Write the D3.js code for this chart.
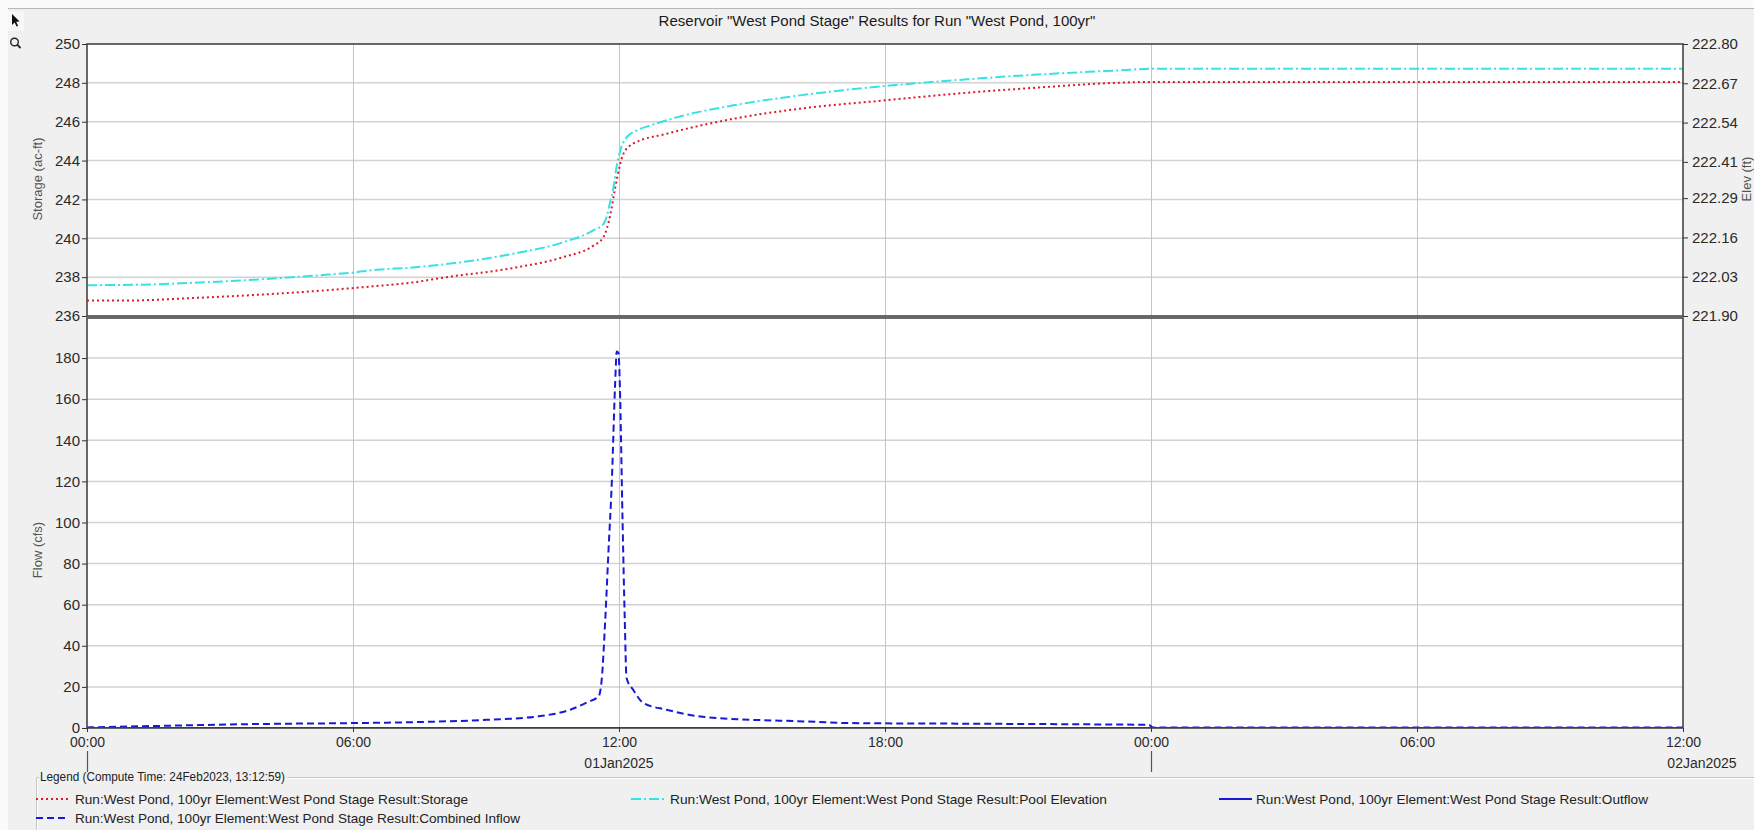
<!DOCTYPE html>
<html>
<head>
<meta charset="utf-8">
<script src="https://cdn.jsdelivr.net/npm/d3@7"></script>
<style>
  html, body { margin: 0; padding: 0; background: #f0f0f0; }
  svg { display: block; }
  text { font-family: "Liberation Sans", Arial, sans-serif; }
</style>
</head>
<body>
<svg id="chart" width="1754" height="830"></svg>
<script>
// ---------------- DATA ----------------
const chartTitle = 'Reservoir "West Pond Stage" Results for Run "West Pond, 100yr"';

const storageHours  = [0, 1, 2.25, 3.76, 5.26, 6.01, 6.61, 7.22, 8.11, 9.61, 10.74, 11.42, 11.65, 11.8, 11.91, 12.02, 12.1, 12.32, 13.08, 14.58, 16.08, 18, 19.84, 21.34, 23.3, 24, 30, 36];
const storageValues = [236.8, 236.8, 236.91, 237.08, 237.3, 237.44, 237.56, 237.69, 238.0, 238.47, 239.03, 239.62, 240.06, 241.17, 242.55, 243.75, 244.35, 244.87, 245.38, 246.15, 246.67, 247.1, 247.49, 247.74, 248.01, 248.05, 248.05, 248.05];

const poolHours  = [0, 1, 2.25, 3.76, 5.26, 6.01, 6.61, 7.22, 8.11, 9.61, 10.74, 11.42, 11.65, 11.72, 11.8, 11.87, 11.95, 12.02, 12.17, 12.4, 12.7, 13.45, 14.58, 16.08, 18, 19.84, 21.34, 23.3, 24, 30, 36];
const poolValues = [222.002, 222.003, 222.009, 222.020, 222.035, 222.044, 222.054, 222.059, 222.072, 222.106, 222.144, 222.183, 222.205, 222.227, 222.277, 222.321, 222.398, 222.443, 222.491, 222.514, 222.530, 222.563, 222.597, 222.630, 222.661, 222.683, 222.698, 222.713, 222.718, 222.718, 222.718];

const inflowHours  = [0, 1.13, 2.26, 3.76, 6.02, 7.52, 9.02, 10.15, 10.9, 11.28, 11.54, 11.61, 11.69, 11.76, 11.84, 11.91, 11.95, 11.99, 12.02, 12.08, 12.13, 12.17, 12.32, 12.55, 13.07, 13.83, 14.2, 16.2, 17.2, 19.8, 22.4, 23.7, 23.95, 24.05, 30, 36];
const inflowValues = [0.3, 0.8, 1.3, 1.9, 2.4, 2.9, 4.0, 5.6, 8.9, 12.5, 15.4, 23.5, 52.7, 85, 120.8, 166, 183.2, 182.4, 166, 101, 52.7, 24.3, 18.6, 12.2, 8.9, 5.6, 4.9, 3.2, 2.4, 2.1, 1.8, 1.6, 1.5, 0.2, 0.2, 0.2];

const outflowHours  = [0, 6, 12, 18, 24, 30, 36];
const outflowValues = [0, 0, 0, 0, 0, 0, 0];

const storageTicks = [236, 238, 240, 242, 244, 246, 248, 250];
const elevTicks    = [221.90, 222.03, 222.16, 222.29, 222.41, 222.54, 222.67, 222.80];
const flowTicks    = [0, 20, 40, 60, 80, 100, 120, 140, 160, 180];
const timeTickHours = [0, 6, 12, 18, 24, 30, 36];
const dateLabels   = [{hour: 12, text: "01Jan2025"}, {hour: 36, text: "02Jan2025"}];
const dayBoundaryHours = [0, 24];

const legendTitle = "Legend (Compute Time: 24Feb2023, 13:12:59)";
const legendItems = [
  {name: "Run:West Pond, 100yr Element:West Pond Stage Result:Storage", key: "storage"},
  {name: "Run:West Pond, 100yr Element:West Pond Stage Result:Pool Elevation", key: "pool"},
  {name: "Run:West Pond, 100yr Element:West Pond Stage Result:Outflow", key: "outflow"},
  {name: "Run:West Pond, 100yr Element:West Pond Stage Result:Combined Inflow", key: "inflow"}
];

// ---------------- STYLES ----------------
const styles = {
  storage: {color: "#e0182c", dash: "2,3", width: 2},
  pool:    {color: "#35e3e3", dash: "10,3,2,3", width: 2},
  outflow: {color: "#1818d8", dash: null, width: 2},
  inflow:  {color: "#1818d8", dash: "7,4", width: 2}
};

// ---------------- LAYOUT ----------------
const L = 87, R = 1683;
const topY0 = 44, topY1 = 316;
const botY0 = 318, botY1 = 728;
const t0 = Date.UTC(2025, 0, 1, 0, 0);
const hourToDate = h => new Date(t0 + h * 3600 * 1000);

const svg = d3.select("#chart");

// Background pieces
svg.append("rect").attr("x", 0).attr("y", 0).attr("width", 1754).attr("height", 830).attr("fill", "#f0f0f0");
svg.append("rect").attr("x", 0).attr("y", 0).attr("width", 1754).attr("height", 8).attr("fill", "#fbfbfb");
svg.append("rect").attr("x", 0).attr("y", 0).attr("width", 8).attr("height", 830).attr("fill", "#fbfbfb");
svg.append("line").attr("x1", 8).attr("x2", 1754).attr("y1", 8.5).attr("y2", 8.5).attr("stroke", "#b8b8b8").attr("stroke-width", 1);

// toolbar icons
svg.append("rect").attr("x", 8).attr("y", 11).attr("width", 16).attr("height", 20).attr("fill", "#f7f7f7");
svg.append("path")
  .attr("d", "M12,14 L12,25 L14.6,22.4 L16.6,26.6 L18.2,25.9 L16.2,21.7 L19.6,21.5 Z")
  .attr("fill", "#111");
svg.append("circle").attr("cx", 14.5).attr("cy", 42).attr("r", 3.8).attr("fill", "none").attr("stroke", "#222").attr("stroke-width", 1.4);
svg.append("line").attr("x1", 17.2).attr("y1", 44.7).attr("x2", 20.5).attr("y2", 48).attr("stroke", "#222").attr("stroke-width", 1.8);

// Scales
const x = d3.scaleUtc().domain([hourToDate(0), hourToDate(36)]).range([L, R]);
const yStor = d3.scaleLinear().domain([236, 250]).range([topY1, topY0]);
const yElev = d3.scaleLinear().domain([221.9, 222.8]).range([topY1, topY0]);
const yFlow = d3.scaleLinear().domain([0, 199.5]).range([botY1, botY0]);

// Plot backgrounds
svg.append("rect").attr("x", L).attr("y", topY0).attr("width", R - L).attr("height", topY1 - topY0).attr("fill", "#fff");
svg.append("rect").attr("x", L).attr("y", botY0).attr("width", R - L).attr("height", botY1 - botY0).attr("fill", "#fff");

// Grid
const grid = svg.append("g");
storageTicks.slice(1, -1).forEach(v => {
  grid.append("line").attr("x1", L).attr("x2", R).attr("y1", yStor(v)).attr("y2", yStor(v))
    .attr("stroke", "#d2d2d2").attr("stroke-width", 1.5);
});
flowTicks.slice(1).forEach(v => {
  grid.append("line").attr("x1", L).attr("x2", R).attr("y1", yFlow(v)).attr("y2", yFlow(v))
    .attr("stroke", "#d2d2d2").attr("stroke-width", 1.5);
});
timeTickHours.slice(1, -1).forEach(h => {
  const xx = Math.round(x(hourToDate(h))) + 0.5;
  [[topY0, topY1], [botY0, botY1]].forEach(([a, b]) => {
    grid.append("line").attr("x1", xx).attr("x2", xx).attr("y1", a).attr("y2", b)
      .attr("stroke", "#c4c4c4").attr("stroke-width", 1);
  });
});

// Clip paths
const defs = svg.append("defs");
defs.append("clipPath").attr("id", "clipTop").append("rect").attr("x", L).attr("y", topY0).attr("width", R - L).attr("height", topY1 - topY0);
defs.append("clipPath").attr("id", "clipBot").append("rect").attr("x", L).attr("y", botY0 - 2).attr("width", R - L).attr("height", botY1 - botY0 + 2);

function drawSeries(hours, values, yScale, st, clip) {
  const pts = hours.map((h, i) => [hourToDate(h), values[i]]);
  const line = d3.line().x(d => x(d[0])).y(d => yScale(d[1])).curve(d3.curveMonotoneX);
  const p = svg.append("path").datum(pts)
    .attr("d", line)
    .attr("fill", "none")
    .attr("stroke", st.color)
    .attr("stroke-width", st.width)
    .attr("clip-path", `url(#${clip})`);
  if (st.dash) p.attr("stroke-dasharray", st.dash);
}

drawSeries(storageHours, storageValues, yStor, styles.storage, "clipTop");
drawSeries(poolHours, poolValues, yElev, styles.pool, "clipTop");
drawSeries(outflowHours, outflowValues, yFlow, styles.outflow, "clipBot");
drawSeries(inflowHours, inflowValues, yFlow, styles.inflow, "clipBot");

// Borders
[[topY0, topY1], [botY0, botY1]].forEach(([a, b]) => {
  svg.append("rect").attr("x", L).attr("y", a).attr("width", R - L).attr("height", b - a)
    .attr("fill", "none").attr("stroke", "#454545").attr("stroke-width", 1.6);
});

// Axes
function styleAxis(g) {
  g.select(".domain").remove();
  g.selectAll(".tick line").attr("stroke", "#333");
  g.selectAll(".tick text").attr("fill", "#2a2a2a").style("font-family", '"Liberation Sans", Arial, sans-serif');
}

svg.append("g").attr("transform", `translate(${L},0)`)
  .call(d3.axisLeft(yStor).tickValues(storageTicks).tickFormat(d3.format("d")).tickSize(5).tickPadding(2))
  .call(styleAxis)
  .selectAll("text").style("font-size", "15px");

svg.append("g").attr("transform", `translate(${R},0)`)
  .call(d3.axisRight(yElev).tickValues(elevTicks).tickFormat(d3.format(".2f")).tickSize(5).tickPadding(4))
  .call(styleAxis)
  .selectAll("text").style("font-size", "15px");

svg.append("g").attr("transform", `translate(${L},0)`)
  .call(d3.axisLeft(yFlow).tickValues(flowTicks).tickFormat(d3.format("d")).tickSize(5).tickPadding(2))
  .call(styleAxis)
  .selectAll("text").style("font-size", "15px");

svg.append("g").attr("transform", `translate(0,${botY1})`)
  .call(d3.axisBottom(x).tickValues(timeTickHours.map(hourToDate)).tickFormat(d3.utcFormat("%H:%M")).tickSize(4).tickPadding(5))
  .call(styleAxis)
  .selectAll("text").style("font-size", "14px");

// Date labels and day boundary ticks
dateLabels.forEach(d => {
  let xx = x(hourToDate(d.hour));
  if (d.hour === 36) xx = 1702;
  svg.append("text").attr("x", xx).attr("y", 768).attr("text-anchor", "middle")
    .attr("fill", "#2a2a2a").style("font-size", "14px").text(d.text);
});
dayBoundaryHours.forEach(h => {
  const xx = Math.round(x(hourToDate(h))) + 0.5;
  svg.append("line").attr("x1", xx).attr("x2", xx).attr("y1", 751).attr("y2", 772)
    .attr("stroke", "#555").attr("stroke-width", 1.2);
});

// Axis titles
svg.append("text").attr("transform", "translate(42,179) rotate(-90)").attr("text-anchor", "middle")
  .attr("fill", "#555").style("font-size", "13px").text("Storage (ac-ft)");
svg.append("text").attr("transform", "translate(42,550) rotate(-90)").attr("text-anchor", "middle")
  .attr("fill", "#555").style("font-size", "13px").text("Flow (cfs)");
svg.append("text").attr("transform", "translate(1751,179) rotate(-90)").attr("text-anchor", "middle")
  .attr("fill", "#555").style("font-size", "13px").text("Elev (ft)");

// Title
svg.append("text").attr("x", 877).attr("y", 26).attr("text-anchor", "middle")
  .attr("fill", "#1a1a1a").style("font-size", "15px").text(chartTitle);

// Legend box
const legY = 777;
svg.append("path").attr("d", `M36.5,830 L36.5,${legY + 0.5} L39,${legY + 0.5} M287,${legY + 0.5} L1754,${legY + 0.5}`)
  .attr("fill", "none").attr("stroke", "#c6c6c6").attr("stroke-width", 1);
svg.append("path").attr("d", `M37.5,830 L37.5,${legY + 1.5} M287,${legY + 1.5} L1754,${legY + 1.5}`)
  .attr("fill", "none").attr("stroke", "#ffffff").attr("stroke-width", 1);
svg.append("text").attr("x", 40).attr("y", legY + 4).attr("fill", "#222")
  .style("font-family", '"Liberation Sans Narrow", "Arial Narrow", "Liberation Sans", sans-serif')
  .style("font-size", "12px")
  .attr("textLength", 245).attr("lengthAdjust", "spacingAndGlyphs")
  .text(legendTitle);

const legendPos = {
  storage: {sx: 36, tx: 75, y: 799, w: 393},
  pool:    {sx: 631, tx: 670, y: 799, w: 437},
  outflow: {sx: 1219, tx: 1256, y: 799, w: 392},
  inflow:  {sx: 36, tx: 75, y: 818, w: 445}
};
legendItems.forEach(item => {
  const p = legendPos[item.key], st = styles[item.key];
  const ln = svg.append("line").attr("x1", p.sx).attr("x2", p.sx + 33).attr("y1", p.y).attr("y2", p.y)
    .attr("stroke", st.color).attr("stroke-width", st.width);
  if (st.dash) ln.attr("stroke-dasharray", st.dash);
  svg.append("text").attr("x", p.tx).attr("y", p.y + 4.5).attr("fill", "#222")
    .style("font-family", '"Liberation Sans Narrow", "Arial Narrow", "Liberation Sans", sans-serif')
    .style("font-size", "13.5px")
    .attr("textLength", p.w).attr("lengthAdjust", "spacingAndGlyphs")
    .text(item.name);
});
</script>
</body>
</html>
